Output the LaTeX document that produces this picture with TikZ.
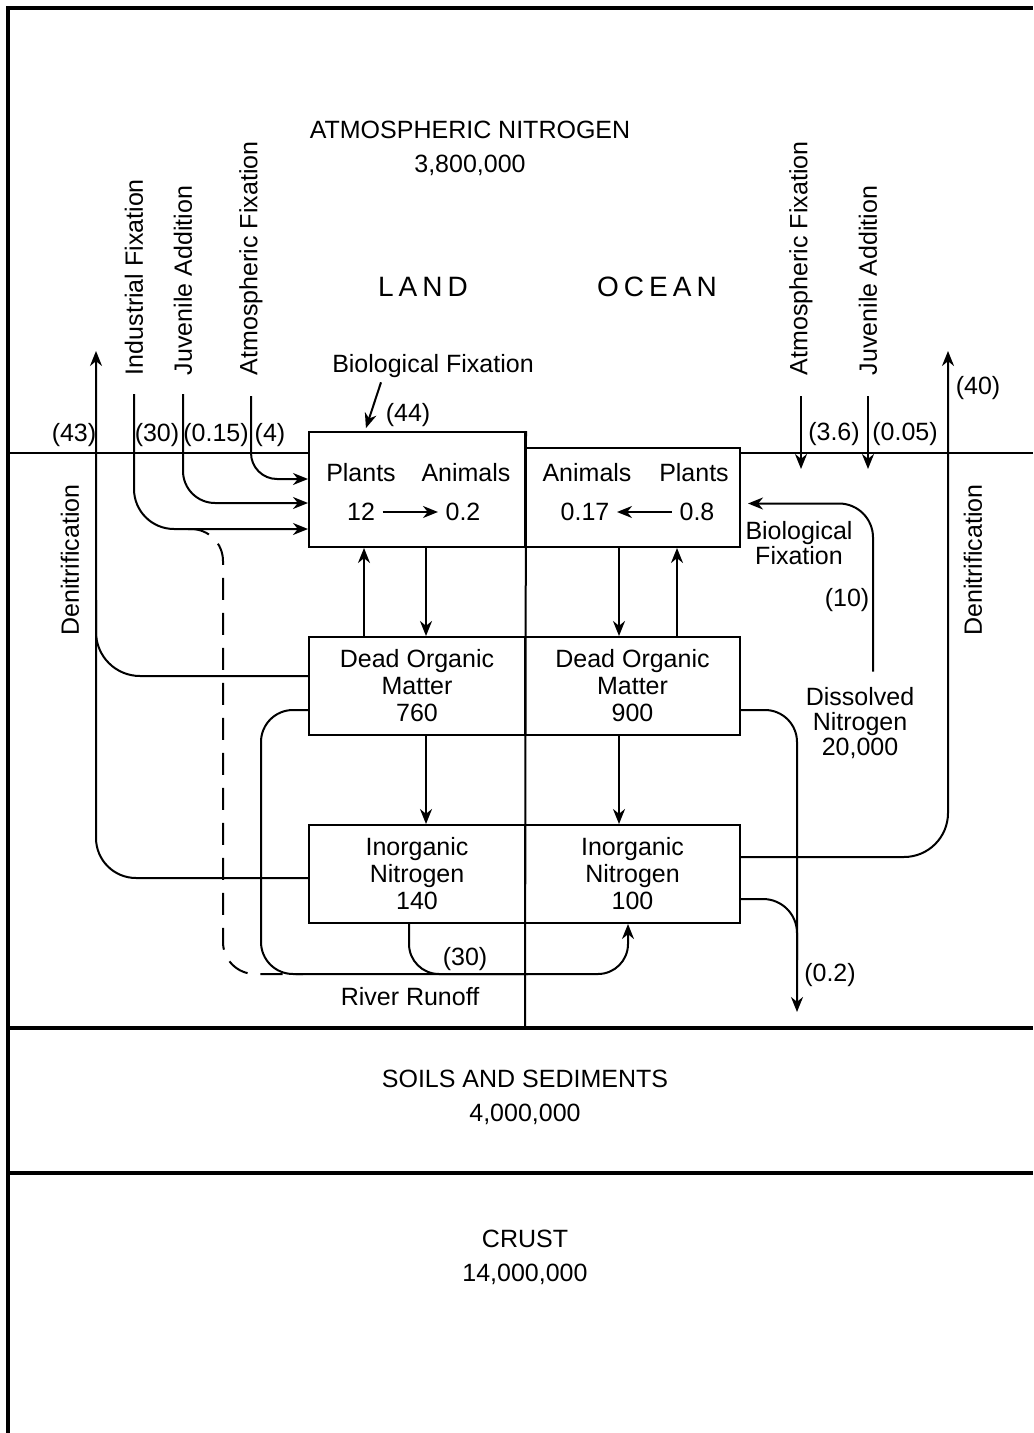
\documentclass[tikz,border=0pt]{standalone}
\usepackage{fontspec}
\setmainfont{Liberation Sans}
\usetikzlibrary{arrows.meta,calc}

\begin{document}
\begin{tikzpicture}[
  x=0.5pt, y=-0.5pt,
  font=\fontsize{12.5}{13.5}\selectfont,
  line width=1pt,
  frame/.style={line width=1.6pt},
  box/.style={draw, inner sep=0pt, align=center, minimum width=#1},
  flow/.style={-{Stealth[length=7.5pt, width=6pt, inset=2.4pt]}},
  reservoir/.style={align=center, font=\fontsize{12.5}{17}\selectfont},
  realm/.style={font=\fontsize{14}{16}\selectfont\addfontfeature{LetterSpace=18}},
  note/.style={align=center, font=\fontsize{12.5}{12.5}\selectfont},
  vlabel/.style={rotate=90, anchor=west, inner sep=0pt},
  rate/.style={inner sep=1pt}
]
  \useasboundingbox (0,0) rectangle (1033,1433);

  % frame and layers
  \coordinate (tl) at (8,8);
  \draw[frame] (8,1433) -- (tl) -- (1033,8);
  \draw[frame] (8,1028) -- (1033,1028);
  \draw[frame] (8,1173) -- (1033,1173);

  % reservoirs
  \node[reservoir] (atmos) at (470,148) {ATMOSPHERIC NITROGEN\\3,800,000};
  \node[reservoir] (soils) at (525,1097) {SOILS AND SEDIMENTS\\4,000,000};
  \node[reservoir] (crust) at (525,1257) {CRUST\\14,000,000};
  \node[realm] (land) at (423,287) {LAND};
  \node[realm] (ocean) at (657,287) {OCEAN};

  % compartments
  \node[box=108pt, minimum height=57.5pt] (landbio) at (417,489.5) {};
  \node[box=107.5pt, minimum height=49.5pt] (oceanbio) at (632.5,497.5) {};
  \node[box=108pt, minimum height=49pt] (landdom) at (417,686) {Dead Organic\\Matter\\760};
  \node[box=107.5pt, minimum height=49pt] (oceandom) at (632.5,686) {Dead Organic\\Matter\\900};
  \node[box=108pt, minimum height=49pt] (landinorg) at (417,874) {Inorganic\\Nitrogen\\140};
  \node[box=107.5pt, minimum height=49pt] (oceaninorg) at (632.5,874) {Inorganic\\Nitrogen\\100};

  % surface and land/ocean divide
  \coordinate (shoreW) at (8,453);
  \coordinate (shoreE) at (1033,453);
  \coordinate (seabed) at (525,1028);
  \draw (shoreW) -- (shoreW -| landbio.west);
  \draw (oceanbio.east |- shoreE) -- (shoreE);
  \draw (landbio.north east) -- (seabed);

  % biota
  \node (lplants) at (361,473) {Plants};
  \node (lanimals) at (466,473) {Animals};
  \node (lp) at (361,512) {12};
  \node (la) at (463,512) {0.2};
  \node (oanimals) at (587,473) {Animals};
  \node (oplants) at (694,473) {Plants};
  \node (oa) at (585,512) {0.17};
  \node (op) at (697,512) {0.8};
  \draw[flow] (lp) -- (la);
  \draw[flow] (op) -- (oa);

  % internal cycling
  \draw[flow] ([xshift=-26.5pt]landdom.north) -- ([xshift=-26.5pt]landbio.south);
  \draw[flow] ([xshift=4.5pt]landbio.south) -- ([xshift=4.5pt]landdom.north);
  \draw[flow] ([xshift=-6.75pt]oceanbio.south) -- ([xshift=-6.75pt]oceandom.north);
  \draw[flow] ([xshift=22.25pt]oceandom.north) -- ([xshift=22.25pt]oceanbio.south);
  \draw[flow] ([xshift=4.5pt]landdom.south) -- ([xshift=4.5pt]landinorg.north);
  \draw[flow] ([xshift=-6.75pt]oceandom.south) -- ([xshift=-6.75pt]oceaninorg.north);

  % inputs to land
  \node[vlabel] (indfix) at (134,376) {Industrial Fixation};
  \node[vlabel] (ljuv) at (183,376) {Juvenile Addition};
  \node[vlabel] (latm) at (251,376) {Atmospheric Fixation};
  \draw[flow, rounded corners=20pt] ([yshift=-9pt]indfix.west) |- ([yshift=-19.75pt]landbio.west);
  \draw[flow, rounded corners=16pt] ([yshift=-9pt]ljuv.west) |- ([yshift=-6.75pt]landbio.west);
  \draw[flow, rounded corners=13pt] ([yshift=-10pt]latm.west) |- ([yshift=5.25pt]landbio.west);
  \node[rate] (r43) at (74,435) {(43)};
  \node[rate] (r30) at (157,435) {(30)};
  \node[rate] (r015) at (216,435) {(0.15)};
  \node[rate] (r4) at (270,435) {(4)};

  \node (lbf) at (433,366) {Biological Fixation};
  \draw[flow, shorten >=1.5pt] ([xshift=-26pt, yshift=1.5pt]lbf.south) -- ([xshift=-26pt]landbio.north);
  \node[rate] (r44) at (408,415) {(44)};

  % inputs to ocean
  \node[vlabel] (oatm) at (801,376) {Atmospheric Fixation};
  \node[vlabel] (ojuv) at (868,376) {Juvenile Addition};
  \coordinate (oatmend) at (801,469);
  \coordinate (ojuvend) at (868,469);
  \draw[flow] ([yshift=-10pt]oatm.west) -- (oatmend);
  \draw[flow] ([yshift=-10pt]ojuv.west) -- (ojuvend);
  \node[rate] (r36) at (834,434) {(3.6)};
  \node[rate] (r005) at (905,434) {(0.05)};

  \node[note] (dissolved) at (860,723) {Dissolved\\Nitrogen\\20,000};
  \draw[flow, rounded corners=17pt, shorten >=3.5pt] ([xshift=6.5pt, yshift=4pt]dissolved.north) |- ([yshift=-3pt]oceanbio.east);
  \node[note] (obf) at (799,543) {Biological\\Fixation};
  \node[rate] (r10) at (847,600) {(10)};

  % denitrification
  \coordinate (ldenit) at (96,351);
  \coordinate (ldenitmid) at (96,600);
  \draw[flow, rounded corners=22pt] ([yshift=5pt]landdom.west) -| (ldenit);
  \draw[rounded corners=20pt] ([yshift=-2pt]landinorg.west) -| (ldenitmid);
  \node[rotate=90] (ldenitlbl) at (70,560) {Denitrification};
  \coordinate (odenit) at (948,351);
  \draw[flow, rounded corners=22pt] ([yshift=8.5pt]oceaninorg.east) -| (odenit);
  \node[rotate=90] (odenitlbl) at (973,560) {Denitrification};
  \node[rate] (r40) at (978,388) {(40)};

  % losses to sediments
  \coordinate (sedin) at (797,1012);
  \coordinate (sedmid) at (797,960);
  \draw[flow, rounded corners=16pt] ([yshift=-12pt]oceandom.east) -| (sedin);
  \draw[rounded corners=17pt] ([yshift=-12.5pt]oceaninorg.east) -| (sedmid);
  \node[rate] (r02) at (830,975) {(0.2)};

  % river runoff
  \coordinate (runoffW) at (261,974);
  \coordinate (runoffmid) at (528,974);
  \coordinate (dashN) at (188,529);
  \coordinate (dashS) at (223,974);
  \coordinate (dashE) at (303,974);
  \draw[flow, rounded corners=15pt] ([xshift=-4pt]landinorg.south) |- (runoffmid) -| ([xshift=-2.25pt]oceaninorg.south);
  \draw[rounded corners=16pt] ([yshift=-12pt]landdom.west) -| (runoffW) -- (runoffmid);
  \draw[dash pattern=on 11pt off 6.5pt, rounded corners=16pt] (dashN) -| (dashS) -- (dashE);
  \node[rate] (r30b) at (465,959) {(30)};
  \node (runoff) at (410,997) {River Runoff};
\end{tikzpicture}
\end{document}
